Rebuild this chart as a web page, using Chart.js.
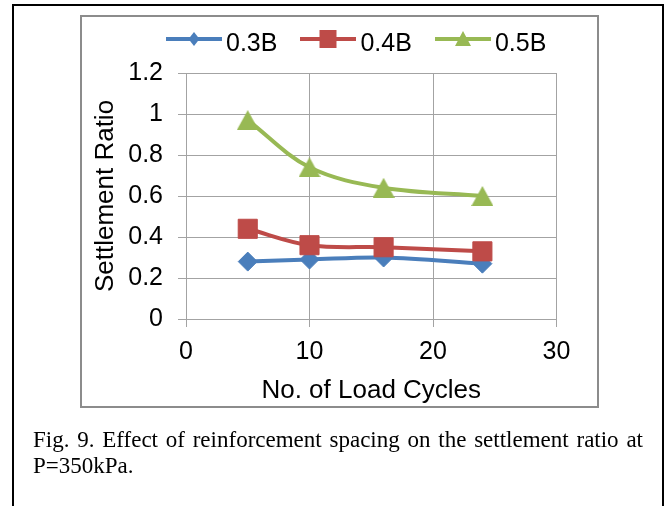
<!DOCTYPE html>
<html>
<head>
<meta charset="utf-8">
<title>Settlement ratio vs load cycles</title>
<script src="https://cdn.jsdelivr.net/npm/chart.js@4.4.0/dist/chart.umd.min.js"></script>
<style>
  html, body { margin: 0; padding: 0; background: #fff; }
  body { width: 670px; height: 506px; position: relative; overflow: hidden; }
  #outer { position: absolute; left: 12px; top: 4px; width: 648px; height: 560px; border: 2px solid #000; }
  #frame { position: absolute; left: 80px; top: 15px; width: 515px; height: 389px; border: 2px solid #8c8c8c; }
  #chartBox { position: absolute; left: 0; top: 0; width: 670px; height: 506px; }
  #legend { position: absolute; left: 166px; top: 27px; display: flex; align-items: center;
            font-family: "Liberation Sans", Arial, sans-serif; font-size: 25px; line-height: 30px; color: #000; }
  .item { display: flex; align-items: center; margin-right: 23px; }
  .item canvas { margin-right: 4px; position: relative; top: -3px; }
  #caption { position: absolute; left: 33px; top: 427px; width: 610px;
             font-family: "Liberation Serif", "Times New Roman", serif; font-size: 23px; line-height: 26px;
             text-align: justify; text-align-last: left; color: #000; }
</style>
</head>
<body>
<div id="outer"></div>
<div id="frame"></div>
<div id="chartBox"><canvas id="settleChart" width="670" height="506"></canvas></div>
<div id="legend"></div>
<div id="caption">Fig. 9. Effect of reinforcement spacing on the settlement ratio at P=350kPa.</div>

<script>
// values
const cycles = [5, 10, 16, 24];
const ratio03B = [0.28, 0.29, 0.30, 0.27];
const ratio04B = [0.44, 0.36, 0.35, 0.33];
const ratio05B = [0.97, 0.74, 0.64, 0.60];

const seriesNames = ['0.3B', '0.4B', '0.5B'];
const seriesColors = ['#4A7EBB', '#BE4B48', '#98B954'];

const xTickLabels = ['0', '10', '20', '30'];
const yTickLabels = ['0', '0.2', '0.4', '0.6', '0.8', '1', '1.2'];
const xMin = 0, xMax = 30, xStep = 10;
const yMin = 0, yMax = 1.2, yStep = 0.2;

// Excel-style triangle, centred on its bounding box
function makeTriangle(color, w, h) {
    const cv = document.createElement('canvas');
    cv.width = w; cv.height = h;
    const c = cv.getContext('2d');
    c.fillStyle = color;
    c.beginPath();
    c.moveTo(w / 2, 0);
    c.lineTo(w, h);
    c.lineTo(0, h);
    c.closePath();
    c.fill();
    return cv;
}

const markerStyles = ['rectRot', 'rect', makeTriangle(seriesColors[2], 22, 20)];
const markerRadius = [9.5, 13.5, 11];

function toPoints(ys) {
    return cycles.map((x, i) => ({ x: x, y: ys[i] }));
}

const seriesValues = [ratio03B, ratio04B, ratio05B];

const datasets = seriesNames.map((name, i) => ({
    label: name,
    data: toPoints(seriesValues[i]),
    borderColor: seriesColors[i],
    backgroundColor: seriesColors[i],
    pointBackgroundColor: seriesColors[i],
    pointBorderColor: seriesColors[i],
    pointBorderWidth: 1,
    borderWidth: 4,
    pointStyle: markerStyles[i],
    pointRadius: markerRadius[i],
    tension: 0.35,
    fill: false,
    order: seriesNames.length - i   // later series on top, like Excel
}));

Chart.defaults.font.family = "'Liberation Sans', Arial, sans-serif";
Chart.defaults.color = '#000';

const gridColor = '#a3a3a3';

const chart = new Chart(document.getElementById('settleChart').getContext('2d'), {
    type: 'line',
    data: { datasets: datasets },
    options: {
        responsive: false,
        animation: false,
        events: [],
        layout: { padding: { left: 80, top: 73, right: 113.5, bottom: 99 } },
        plugins: {
            legend: { display: false },
            tooltip: { enabled: false }
        },
        scales: {
            x: {
                type: 'linear',
                min: xMin, max: xMax,
                ticks: { stepSize: xStep, font: { size: 25 }, padding: 10, color: '#000',
                         callback: (v, i) => xTickLabels[i] },
                grid: { color: gridColor, lineWidth: 1, tickLength: 8 },
                border: { color: gridColor, width: 1 },
                title: { display: true, text: 'No. of Load Cycles', font: { size: 26 }, color: '#000',
                         padding: { top: 0, bottom: 1 } },
                afterFit: (scale) => { scale.height = 88; }
            },
            y: {
                type: 'linear',
                min: yMin, max: yMax,
                ticks: { stepSize: yStep, font: { size: 25 }, padding: 15, color: '#000',
                         callback: (v, i) => yTickLabels[i] },
                grid: { color: gridColor, lineWidth: 1, tickLength: 8 },
                border: { color: gridColor, width: 1 },
                title: { display: true, text: 'Settlement Ratio', font: { size: 26 }, color: '#000',
                         padding: { top: 10, bottom: 0 } },
                afterFit: (scale) => { scale.width = 106; }
            }
        }
    }
});

// legend: line with marker, then the label
function drawSwatch(cv, color, style) {
    const c = cv.getContext('2d');
    const w = cv.width, h = cv.height, cx = w / 2, cy = h / 2;
    c.strokeStyle = color;
    c.lineWidth = 4;
    c.beginPath();
    c.moveTo(0, cy);
    c.lineTo(w, cy);
    c.stroke();
    c.fillStyle = color;
    c.beginPath();
    if (style === 'rectRot') {
        c.moveTo(cx, cy - 7); c.lineTo(cx + 5.5, cy); c.lineTo(cx, cy + 7); c.lineTo(cx - 5.5, cy);
    } else if (style === 'rect') {
        c.rect(cx - 8.5, cy - 9, 17, 18);
    } else {
        c.moveTo(cx, cy - 8); c.lineTo(cx + 8, cy + 7); c.lineTo(cx - 8, cy + 7);
    }
    c.closePath();
    c.fill();
}

const legendEl = document.getElementById('legend');
chart.data.datasets.forEach((ds, i) => {
    const item = document.createElement('div');
    item.className = 'item';
    const sw = document.createElement('canvas');
    sw.width = 56; sw.height = 20;
    drawSwatch(sw, ds.borderColor, typeof ds.pointStyle === 'string' ? ds.pointStyle : 'triangle');
    const txt = document.createElement('span');
    txt.textContent = ds.label;
    item.appendChild(sw);
    item.appendChild(txt);
    legendEl.appendChild(item);
});
</script>
</body>
</html>
